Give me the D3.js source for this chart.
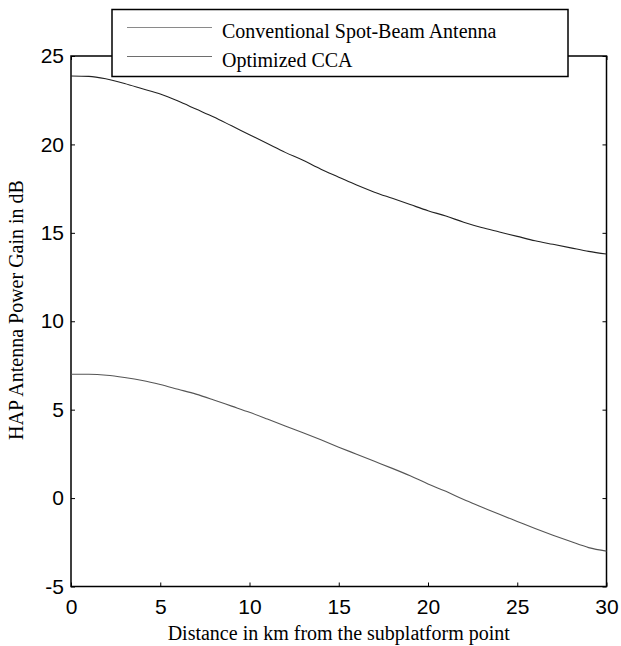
<!DOCTYPE html>
<html>
<head>
<meta charset="utf-8">
<script src="https://cdn.jsdelivr.net/npm/d3@7"></script>
<style>
body { margin: 0; background: #fff; }
.tick text { font-family: Arial, "Liberation Sans", sans-serif; font-size: 21px; fill: #000; }
.title { font-family: "Times New Roman", "Liberation Serif", serif; font-size: 20px; fill: #000; }
</style>
</head>
<body>
<svg id="chart"></svg>
<script>
var width = 621,
    height = 646;

// distance in km from the subplatform point
var distance = d3.range(0, 31);

// HAP antenna power gain in dB
var optimizedCCA = [23.87, 23.85, 23.7, 23.45, 23.15, 22.85, 22.45, 22.0, 21.55, 21.05,
    20.55, 20.05, 19.55, 19.1, 18.6, 18.15, 17.7, 17.3, 16.95, 16.6,
    16.25, 15.95, 15.6, 15.3, 15.05, 14.8, 14.55, 14.35, 14.15, 13.95, 13.8];
var conventional = [7.0, 7.0, 6.95, 6.82, 6.65, 6.42, 6.15, 5.88, 5.55, 5.2,
    4.85, 4.47, 4.08, 3.7, 3.3, 2.88, 2.48, 2.08, 1.68, 1.26,
    0.8, 0.38, -0.08, -0.5, -0.92, -1.32, -1.72, -2.1, -2.46, -2.8, -3.0];

var xTicks = [0, 5, 10, 15, 20, 25, 30];
var yTicks = [-5, 0, 5, 10, 15, 20, 25];
var legendNames = ["Conventional Spot-Beam Antenna", "Optimized CCA"];

// plot box edges (pixels)
var plotL = 71, plotR = 606.5, plotT = 56, plotB = 586.5;

var svg = d3.select("#chart")
    .attr("width", width)
    .attr("height", height);

var x = d3.scaleLinear().domain([0, 30]).range([plotL, plotR]);
var y = d3.scaleLinear().domain([-5, 25]).range([plotB, plotT]);

// plain hyphen for negatives, like the original
var fmt = function(d) { return String(d); };

// axes with inward ticks, MATLAB style
svg.append("g")
    .attr("transform", "translate(0," + plotB + ")")
    .call(d3.axisBottom(x).tickValues(xTicks).tickFormat(fmt).tickSizeInner(-4).tickSizeOuter(0).tickPadding(13))
    .call(function(g) { g.select(".domain").remove(); });
svg.append("g")
    .attr("transform", "translate(" + plotL + ",0)")
    .call(d3.axisLeft(y).tickValues(yTicks).tickFormat(fmt).tickSizeInner(-4).tickSizeOuter(0).tickPadding(7))
    .call(function(g) { g.select(".domain").remove(); });
svg.append("g")
    .attr("transform", "translate(" + plotR + ",0)")
    .call(d3.axisRight(y).tickValues(yTicks).tickSizeInner(-4).tickSizeOuter(0).tickFormat(""))
    .call(function(g) { g.select(".domain").remove(); });
svg.append("g")
    .attr("transform", "translate(0," + plotT + ")")
    .call(d3.axisTop(x).tickValues(xTicks).tickSizeInner(-4).tickSizeOuter(0).tickFormat(""))
    .call(function(g) { g.select(".domain").remove(); });

svg.selectAll(".tick line").attr("stroke", "#000");

svg.append("rect")
    .attr("x", plotL).attr("y", plotT)
    .attr("width", plotR - plotL).attr("height", plotB - plotT)
    .attr("fill", "none").attr("stroke", "#000").attr("stroke-width", 1.5);

var line = d3.line()
    .x(function(d, i) { return x(distance[i]); })
    .y(function(d) { return y(d); })
    .curve(d3.curveMonotoneX);

svg.append("path")
    .attr("d", line(conventional))
    .attr("fill", "none").attr("stroke", "#555").attr("stroke-width", 1.1);
svg.append("path")
    .attr("d", line(optimizedCCA))
    .attr("fill", "none").attr("stroke", "#222").attr("stroke-width", 1.1);

// legend
var lg = svg.append("g");
lg.append("rect")
    .attr("x", 112).attr("y", 9.5)
    .attr("width", 456).attr("height", 67)
    .attr("fill", "#fff").attr("stroke", "#000").attr("stroke-width", 1.5);
var legendColors = ["#8a8a8a", "#6e6e6e"];
legendNames.forEach(function(name, i) {
    var ly = 27.5 + i * 29;
    lg.append("line")
        .attr("x1", 127).attr("x2", 212)
        .attr("y1", ly).attr("y2", ly)
        .attr("stroke", legendColors[i]).attr("stroke-width", 1.2);
    lg.append("text")
        .attr("class", "title")
        .attr("x", 222).attr("y", ly + 10.5)
        .text(name);
});

svg.append("text")
    .attr("class", "title")
    .attr("x", (plotL + plotR) / 2).attr("y", 640)
    .attr("text-anchor", "middle")
    .text("Distance in km from the subplatform point");

svg.append("text")
    .attr("class", "title")
    .attr("transform", "translate(23,310) rotate(-90)")
    .attr("text-anchor", "middle")
    .text("HAP Antenna Power Gain in dB");
</script>
</body>
</html>
